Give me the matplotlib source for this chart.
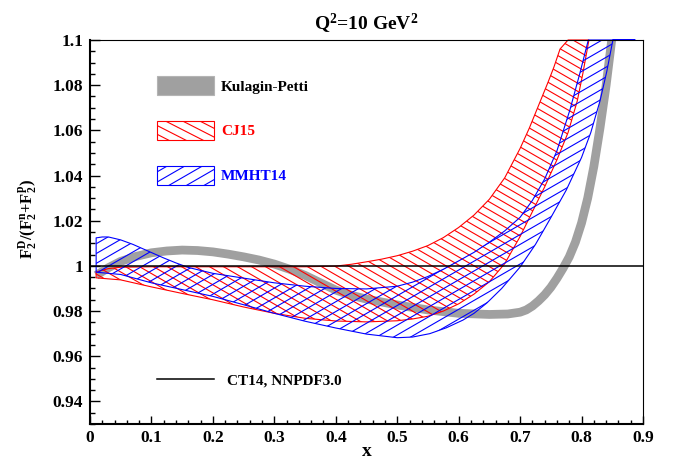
import numpy as np
import matplotlib
matplotlib.use("Agg")
import matplotlib.pyplot as plt
from matplotlib.patches import Polygon, Rectangle
from matplotlib.collections import LineCollection
from matplotlib.ticker import MultipleLocator, FixedLocator, FixedFormatter

plt.rcParams['font.family'] = ['Liberation Serif', 'DejaVu Serif']
plt.rcParams['font.weight'] = 'bold'
plt.rcParams['mathtext.fontset'] = 'custom'
plt.rcParams['mathtext.rm'] = 'Liberation Serif:bold'
plt.rcParams['mathtext.it'] = 'Liberation Serif:bold:italic'
plt.rcParams['mathtext.bf'] = 'Liberation Serif:bold'
plt.rcParams['mathtext.default'] = 'rm'

# Kulagin-Petti band (central curve)
x_kp = [0.01, 0.03, 0.05, 0.075, 0.10, 0.125, 0.15, 0.175, 0.20, 0.225, 0.25,
        0.275, 0.30, 0.325, 0.35, 0.375, 0.40, 0.425, 0.45, 0.475, 0.50, 0.55,
        0.60, 0.65, 0.68, 0.70, 0.71, 0.72, 0.73, 0.74, 0.75, 0.76, 0.77, 0.78,
        0.79, 0.80, 0.81, 0.82, 0.83, 0.84, 0.85, 0.855]
y_kp = [0.9958, 0.9992, 1.0020, 1.0042, 1.0058, 1.0066, 1.0070, 1.0068, 1.0062,
        1.0052, 1.0040, 1.0026, 1.0008, 0.9985, 0.9958, 0.9925, 0.9893, 0.9870,
        0.9853, 0.9840, 0.9827, 0.9805, 0.9790, 0.9785, 0.9787, 0.9795, 0.9805,
        0.9822, 0.9845, 0.9872, 0.9905, 0.9945, 0.9990, 1.0040, 1.0105, 1.0190,
        1.0300, 1.0440, 1.0610, 1.0800, 1.1020, 1.1150]

# CJ15 band
x_cj_up = [0.01, 0.03, 0.05, 0.10, 0.20, 0.30, 0.35, 0.40, 0.425, 0.45, 0.475,
           0.50, 0.525, 0.55, 0.575, 0.60, 0.625, 0.65, 0.675, 0.70, 0.715, 0.73,
           0.745, 0.755, 0.765, 0.778]
y_cj_up = [0.9973, 0.9988, 0.9994, 0.9996, 0.9996, 0.9996, 0.9996, 0.9999,
           1.0007, 1.0018, 1.0030, 1.0045, 1.0065, 1.0090, 1.0125, 1.0170,
           1.0225, 1.0295, 1.0390, 1.0520, 1.0610, 1.0710, 1.0810, 1.0880,
           1.0960, 1.1000]
x_cj_lo = [0.01, 0.05, 0.10, 0.15, 0.20, 0.25, 0.30, 0.35, 0.40, 0.45, 0.50,
           0.525, 0.55, 0.575, 0.60, 0.625, 0.65, 0.675, 0.70, 0.72, 0.74, 0.76,
           0.778, 0.793, 0.802, 0.812]
y_cj_lo = [0.9947, 0.9938, 0.9907, 0.9878, 0.9850, 0.9818, 0.9790, 0.9768,
           0.9756, 0.9752, 0.9757, 0.9765, 0.9777, 0.9800, 0.9832, 0.9875,
           0.9930, 1.0010, 1.0130, 1.0240, 1.0350, 1.0470, 1.0590, 1.0730,
           1.0850, 1.1000]

# MMHT14 band
x_mm_up = [0.01, 0.02, 0.03, 0.05, 0.07, 0.095, 0.12, 0.14, 0.16, 0.20, 0.24,
           0.30, 0.35, 0.40, 0.45, 0.50, 0.525, 0.55, 0.575, 0.60, 0.625, 0.65,
           0.675, 0.70, 0.72, 0.74, 0.76, 0.781, 0.797, 0.811]
y_mm_up = [1.0124, 1.0128, 1.0128, 1.0115, 1.0095, 1.0065, 1.0035, 1.0013,
           0.9993, 0.9967, 0.9950, 0.9925, 0.9910, 0.9900, 0.9898, 0.9910,
           0.9928, 0.9953, 0.9985, 1.0022, 1.0060, 1.0105, 1.0155, 1.0215,
           1.0290, 1.0385, 1.0510, 1.0690, 1.0850, 1.1000]
x_mm_lo = [0.01, 0.05, 0.10, 0.15, 0.20, 0.25, 0.30, 0.35, 0.40, 0.45, 0.50,
           0.525, 0.553, 0.58, 0.607, 0.625, 0.646, 0.67, 0.70, 0.725, 0.748,
           0.775, 0.80, 0.815, 0.83, 0.841, 0.851, 0.887]
y_mm_lo = [0.9972, 0.9962, 0.9925, 0.9895, 0.9865, 0.9828, 0.9790, 0.9755,
           0.9725, 0.9698, 0.9682, 0.9685, 0.9700, 0.9726, 0.9760, 0.9790,
           0.9836, 0.9900, 0.9995, 1.0095, 1.0204, 1.0335, 1.0480, 1.0590,
           1.0730, 1.0860, 1.1000, 1.1000]

# CT14 / NNPDF3.0 reference ratio
x_ct = [0.0, 0.9]
y_ct = [1.0, 1.0]

x_ticks = [0, 0.1, 0.2, 0.3, 0.4, 0.5, 0.6, 0.7, 0.8, 0.9]
x_tick_labels = ['0', '0.1', '0.2', '0.3', '0.4', '0.5', '0.6', '0.7', '0.8', '0.9']
y_ticks = [0.94, 0.96, 0.98, 1.00, 1.02, 1.04, 1.06, 1.08, 1.10]
y_tick_labels = ['0.94', '0.96', '0.98', '1', '1.02', '1.04', '1.06', '1.08', '1.1']

labels = ['Kulagin-Petti', 'CJ15', 'MMHT14', 'CT14, NNPDF3.0']

GRAY = '#a0a0a0'
RED = '#ff0000'
BLUE = '#0000ff'

W_PX, H_PX = 673, 459
fig = plt.figure(figsize=(W_PX / 100, H_PX / 100), dpi=100)
ax = fig.add_axes([90 / W_PX, 35 / H_PX, 553 / W_PX, 384 / H_PX])
ax.set_xlim(0, 0.9)
ax.set_ylim(0.93, 1.1)
AX_W, AX_H = 553.0, 384.0


def add_hatch(clip_patch, angle, gap, color, lw=0.8, zorder=2):
    """Parallel hatch lines at a given screen angle, clipped to a patch."""
    a = np.radians(angle)
    u = np.array([np.cos(a), np.sin(a)])
    n = np.array([-np.sin(a), np.cos(a)])
    corners = np.array([[0, 0], [AX_W, 0], [0, AX_H], [AX_W, AX_H]])
    proj = corners @ n
    offs = np.arange(np.floor(proj.min() / gap) * gap, proj.max() + gap, gap)
    L = AX_W + AX_H
    segs = []
    for c in offs:
        p0 = c * n - L * u
        p1 = c * n + L * u
        segs.append([(p0[0] / AX_W, p0[1] / AX_H), (p1[0] / AX_W, p1[1] / AX_H)])
    lc = LineCollection(segs, colors=color, linewidths=lw,
                        transform=ax.transAxes, zorder=zorder)
    ax.add_collection(lc, autolim=False)
    lc.set_clip_path(clip_patch)
    return lc


def band(xu, yu, xl, yl, color, angle, gap, zorder):
    pts = np.column_stack([np.concatenate([xu, xl[::-1]]),
                           np.concatenate([yu, yl[::-1]])])
    poly = Polygon(pts, closed=True, fill=False, edgecolor=color, lw=0.8,
                   zorder=zorder + 0.1, clip_on=False, joinstyle='round')
    ax.add_patch(poly)
    add_hatch(poly, angle, gap, color, zorder=zorder)


# Kulagin-Petti
ax.plot(x_kp, y_kp, color=GRAY, lw=6.3, solid_capstyle='butt',
        solid_joinstyle='round', zorder=1.5)

# CJ15 and MMHT14 hatched bands
band(np.array(x_cj_up), np.array(y_cj_up), np.array(x_cj_lo), np.array(y_cj_lo),
     RED, -30, 7.0, 2.0)
band(np.array(x_mm_up), np.array(y_mm_up), np.array(x_mm_lo), np.array(y_mm_lo),
     BLUE, 30, 8.5, 2.2)

# CT14 / NNPDF3.0
ax.plot(x_ct, y_ct, color='black', lw=1.1, zorder=4)

# Legend, drawn in axes coordinates
bx0, bx1 = (157 - 90) / AX_W, (214 - 90) / AX_W
tx = (221 - 90) / AX_W


def ay(py):
    return (424 - py) / AX_H


kp_box = Rectangle((bx0, ay(95)), bx1 - bx0, ay(76) - ay(95), transform=ax.transAxes,
                   facecolor=GRAY, edgecolor='#b4b4b4', lw=0.8, zorder=3)
ax.add_patch(kp_box)
ax.text(tx, ay(85.5), labels[0], transform=ax.transAxes, color='black',
        fontsize=11, fontweight='bold', va='center_baseline', ha='left')

cj_box = Rectangle((bx0, ay(139.5)), bx1 - bx0, ay(121) - ay(139.5),
                   transform=ax.transAxes, fill=False, edgecolor=RED, lw=0.8, zorder=3)
ax.add_patch(cj_box)
add_hatch(cj_box, -27, 7.8, RED, zorder=3)
ax.text(tx, ay(130.3), labels[1], transform=ax.transAxes, color=RED,
        fontsize=11, fontweight='bold', va='center_baseline', ha='left')

mm_box = Rectangle((bx0, ay(185)), bx1 - bx0, ay(166) - ay(185),
                   transform=ax.transAxes, fill=False, edgecolor=BLUE, lw=0.8, zorder=3)
ax.add_patch(mm_box)
add_hatch(mm_box, 30, 8.8, BLUE, zorder=3)
ax.text(tx, ay(175.5), labels[2], transform=ax.transAxes, color=BLUE,
        fontsize=11, fontweight='bold', va='center_baseline', ha='left')

ax.plot([bx0, bx1], [ay(379), ay(379)], transform=ax.transAxes, color='black',
        lw=1.1, zorder=4)
ax.text((227 - 90) / AX_W, ay(379.5), labels[3], transform=ax.transAxes,
        color='black', fontsize=11, fontweight='bold', va='center_baseline', ha='left')

# Axes styling
ax.xaxis.set_major_locator(FixedLocator(x_ticks))
ax.xaxis.set_major_formatter(FixedFormatter(x_tick_labels))
ax.xaxis.set_minor_locator(MultipleLocator(0.02))
ax.yaxis.set_major_locator(FixedLocator(y_ticks))
ax.yaxis.set_major_formatter(FixedFormatter(y_tick_labels))
ax.yaxis.set_minor_locator(MultipleLocator(0.005))

ax.tick_params(axis='both', which='both', direction='in', top=False, right=False,
               labelsize=12.5, colors='black')
ax.tick_params(axis='x', which='major', length=5.5, width=1.0, pad=4)
ax.tick_params(axis='x', which='minor', length=3.0, width=1.0)
ax.tick_params(axis='y', which='major', length=7.0, width=1.0, pad=5)
ax.tick_params(axis='y', which='minor', length=3.5, width=1.0)
for lab in ax.get_xticklabels() + ax.get_yticklabels():
    lab.set_fontweight('bold')

for side in ('left', 'bottom'):
    ax.spines[side].set_linewidth(1.5)
for side in ('top', 'right'):
    ax.spines[side].set_linewidth(0.8)

ax.set_xlabel('x', fontsize=14, fontweight='bold')
ax.xaxis.label.set_verticalalignment('baseline')
ax.xaxis.set_label_coords(0.5, ay(456))

ax.set_ylabel(r'$F_2^D/(F_2^n{+}F_2^p)$', fontsize=12)
ax.yaxis.label.set_verticalalignment('center')
ax.yaxis.set_label_coords((28 - 90) / AX_W, ay(219))

ax.text(0.5, ay(30), r'Q$^{2}$=10 GeV$^{2}$', transform=ax.transAxes,
        ha='center', va='baseline', fontsize=14, fontweight='bold')

fig.savefig('out.png', dpi=100)
